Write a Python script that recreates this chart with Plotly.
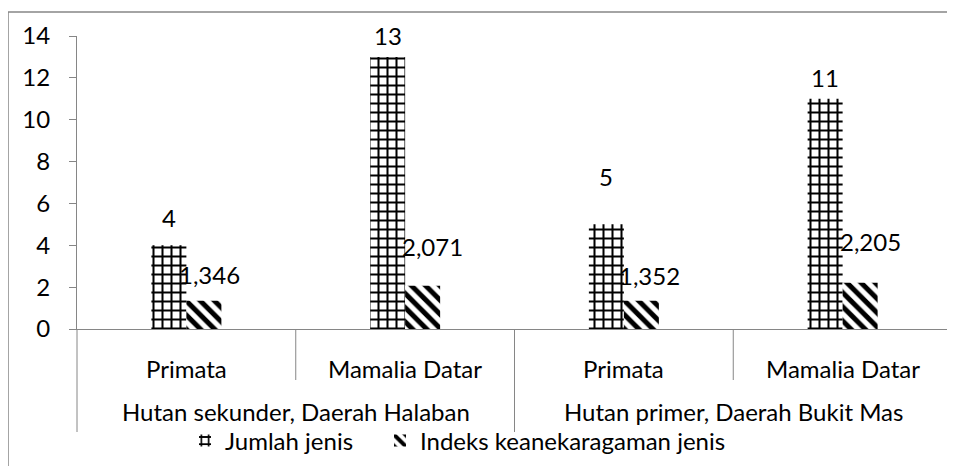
import plotly.graph_objects as go

groups = ["Hutan sekunder, Daerah Halaban", "Hutan primer, Daerah Bukit Mas"]
keys = ["H-Primata", "H-Mamalia", "B-Primata", "B-Mamalia"]
sub_labels = ["Primata", "Mamalia Datar", "Primata", "Mamalia Datar"]
jumlah = [4, 13, 5, 11]
indeks = [1.346, 2.071, 1.352, 2.205]
series_names = ["Jumlah jenis", "Indeks keanekaragaman jenis"]
yticks = [0, 2, 4, 6, 8, 10, 12, 14]

# label placement (style): pixel offsets of value labels from bar top
jumlah_lbl_dy = [28, 21, 48, 21]
indeks_lbl_dy = [26, 39, 25, 41]
indeks_lbl_dx = [6, 10, 8, 10]

FONT = "Lato"
FS = 24
GRAY = "#868686"

OFF = 8  # page body margin
W, H = 955 - OFF, 466 - OFF
ml, mt = 77 - OFF, 36 - OFF
mr = W - (952 - OFF)
mb = H - (329 - OFF)
pw, ph = W - ml - mr, H - mt - mb

def px2x(px):  # screen px -> paper x
    return (px - OFF - ml) / pw

def py2y(py):  # screen px -> paper y
    return (H - mb - (py - OFF)) / ph

fig = go.Figure()
fig.add_trace(go.Bar(
    x=keys, y=jumlah, name=series_names[0], legend="legend",
    marker=dict(color="white", line=dict(width=0),
                pattern=dict(shape="+", fgcolor="black", bgcolor="white",
                             size=9, solidity=0.4, fillmode="replace")),
))
fig.add_trace(go.Bar(
    x=keys, y=indeks, name=series_names[1], legend="legend2",
    marker=dict(color="white", line=dict(width=0),
                pattern=dict(shape="\\", fgcolor="black", bgcolor="white",
                             size=10, solidity=0.5, fillmode="replace")),
))

annotations = []
bw = 0.32 * pw / 4 / 2
for k, v, dy in zip(keys, jumlah, jumlah_lbl_dy):
    annotations.append(dict(x=k, y=v, xref="x", yref="y", text=str(v), showarrow=False,
                            xshift=-bw / 2, yshift=dy, yanchor="middle", xanchor="center",
                            font=dict(family=FONT, size=FS, color="black")))
for k, v, dy, dx in zip(keys, indeks, indeks_lbl_dy, indeks_lbl_dx):
    annotations.append(dict(x=k, y=v, xref="x", yref="y", text=f"{v:.3f}".replace(".", ","),
                            showarrow=False, xshift=bw / 2 + dx, yshift=dy,
                            yanchor="middle", xanchor="center",
                            font=dict(family=FONT, size=FS, color="black")))
for i, lab in enumerate(sub_labels):
    annotations.append(dict(x=(i + 0.5) / 4, y=py2y(368), xref="paper", yref="paper",
                            text=lab, showarrow=False, yanchor="middle", xanchor="center",
                            font=dict(family=FONT, size=FS, color="black")))
for i, g in enumerate(groups):
    annotations.append(dict(x=(i + 0.5) / 2, y=py2y(411), xref="paper", yref="paper",
                            text=g, showarrow=False, yanchor="middle", xanchor="center",
                            font=dict(family=FONT, size=FS, color="black")))

shapes = []
for xp in [0, 0.5, 1]:
    shapes.append(dict(type="line", xref="paper", yref="paper", x0=xp, x1=xp,
                       y0=0, y1=py2y(432), line=dict(color=GRAY, width=1)))
for xp in [0.25, 0.75]:
    shapes.append(dict(type="line", xref="paper", yref="paper", x0=xp, x1=xp,
                       y0=0, y1=py2y(380), line=dict(color=GRAY, width=1)))
# outer chart border
shapes.append(dict(type="rect", xref="paper", yref="paper",
                   x0=px2x(8), x1=px2x(975), y0=py2y(490), y1=py2y(12),
                   line=dict(color=GRAY, width=1.5), fillcolor="rgba(0,0,0,0)"))

legend_common = dict(orientation="h", yanchor="middle", y=py2y(441), xanchor="left",
                     font=dict(family=FONT, size=FS, color="black"),
                     itemwidth=30, bgcolor="rgba(0,0,0,0)", borderwidth=0)

fig.update_layout(
    width=W, height=H,
    margin=dict(l=ml, r=mr, t=mt, b=mb, autoexpand=False),
    paper_bgcolor="white", plot_bgcolor="white",
    barmode="group", bargap=0.68, bargroupgap=0,
    font=dict(family=FONT, size=FS, color="black"),
    showlegend=True,
    legend=dict(x=px2x(185), **legend_common),
    legend2=dict(x=px2x(380), **legend_common),
    annotations=annotations,
    shapes=shapes,
)
fig.update_xaxes(type="category", showticklabels=False, showline=True, linecolor=GRAY,
                 linewidth=1, ticks="", showgrid=False, zeroline=False,
                 range=[-0.5, 3.5])
fig.update_yaxes(range=[0, 14], tickvals=yticks, ticks="outside", ticklen=7,
                 tickcolor=GRAY, showline=True, linecolor=GRAY, linewidth=1,
                 showgrid=False, zeroline=False, ticklabelstandoff=14,
                 tickfont=dict(family=FONT, size=FS, color="black"))

fig.write_html("out.html")
